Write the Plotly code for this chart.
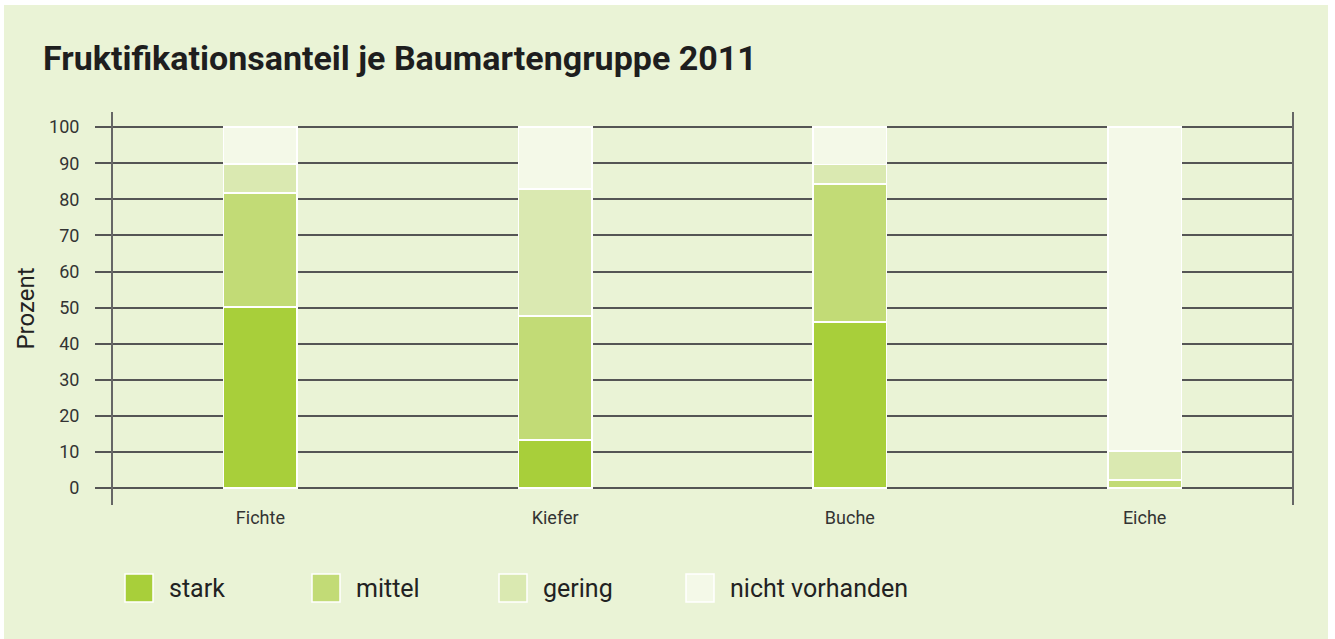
import plotly.graph_objects as go

categories = ["Fichte", "Kiefer", "Buche", "Eiche"]
series_names = ["stark", "mittel", "gering", "nicht vorhanden"]
stark = [50.1, 13.3, 46.0, 0.0]
mittel = [31.6, 34.4, 38.2, 2.2]
gering = [8.1, 35.2, 5.5, 8.0]
nicht_vorhanden = [10.2, 17.1, 10.3, 89.8]
series_values = [stark, mittel, gering, nicht_vorhanden]
colors = ["#A8CF3A", "#C2DB76", "#DAE9B1", "#F4F9E8"]
y_ticks = list(range(0, 101, 10))

title_text = "<b>Fruktifikationsanteil je Baumartengruppe 2011</b>"
y_title = "Prozent"

W, H = 1335, 639
L, R, T, B = 113, 43, 112, 134
pw, ph = W - L - R, H - T - B
FONT = "Roboto"


def px_x(px):
    return (px - L) / pw


def px_y(py):
    return (H - B - py) / ph


fig = go.Figure()
for name, vals, col in zip(series_names, series_values, colors):
    fig.add_trace(go.Bar(
        x=categories, y=vals, name=name,
        marker=dict(color=col, line=dict(color="white", width=1.5)),
        showlegend=False,
    ))

shapes = [
    dict(type="rect", xref="paper", yref="paper",
         x0=px_x(4), x1=px_x(1328), y0=px_y(640), y1=px_y(5),
         fillcolor="#EAF3D6", line=dict(width=0), layer="below"),
]
annotations = []
for i, (name, col) in enumerate(zip(series_names, colors)):
    x0 = 125 + i * 187
    shapes.append(dict(type="rect", xref="paper", yref="paper",
                       x0=px_x(x0), x1=px_x(x0 + 28), y0=px_y(602), y1=px_y(574),
                       fillcolor=col, line=dict(color="white", width=1.5)))
    annotations.append(dict(xref="paper", yref="paper", x=px_x(x0 + 42), y=px_y(588),
                            xanchor="left", yanchor="middle", showarrow=False,
                            text=name, font=dict(family=FONT, size=25, color="#222222")))

fig.update_layout(
    width=W, height=H,
    margin=dict(l=L, r=R, t=T, b=B, pad=0),
    paper_bgcolor="white", plot_bgcolor="rgba(0,0,0,0)",
    barmode="stack", bargap=0.75,
    title=dict(text=title_text, xref="container", yref="container",
               x=43 / W, y=1 - 58 / H, xanchor="left", yanchor="middle",
               font=dict(family=FONT, size=34, color="#1E1E1E")),
    shapes=shapes, annotations=annotations,
    font=dict(family=FONT, color="#333333"),
)
fig.update_yaxes(
    range=[-4.7, 104.2], tickvals=y_ticks, ticktext=[str(v) for v in y_ticks],
    showgrid=True, gridcolor="#555555", gridwidth=1.5, zeroline=False,
    ticks="outside", ticklen=16, tickcolor="#555555", tickwidth=1.5,
    ticklabelstandoff=12,
    showline=True, linecolor="#666666", linewidth=2, mirror=True,
    tickfont=dict(family=FONT, size=18, color="#333333"),
    title=dict(text=y_title, font=dict(family=FONT, size=24, color="#222222"), standoff=8),
)
fig.update_xaxes(
    showgrid=False, zeroline=False, showline=False, ticks="",
    tickfont=dict(family=FONT, size=18, color="#333333"),
)

fig.write_html("out.html", config={"displayModeBar": False},
               post_script="document.body.style.margin='0px';")
